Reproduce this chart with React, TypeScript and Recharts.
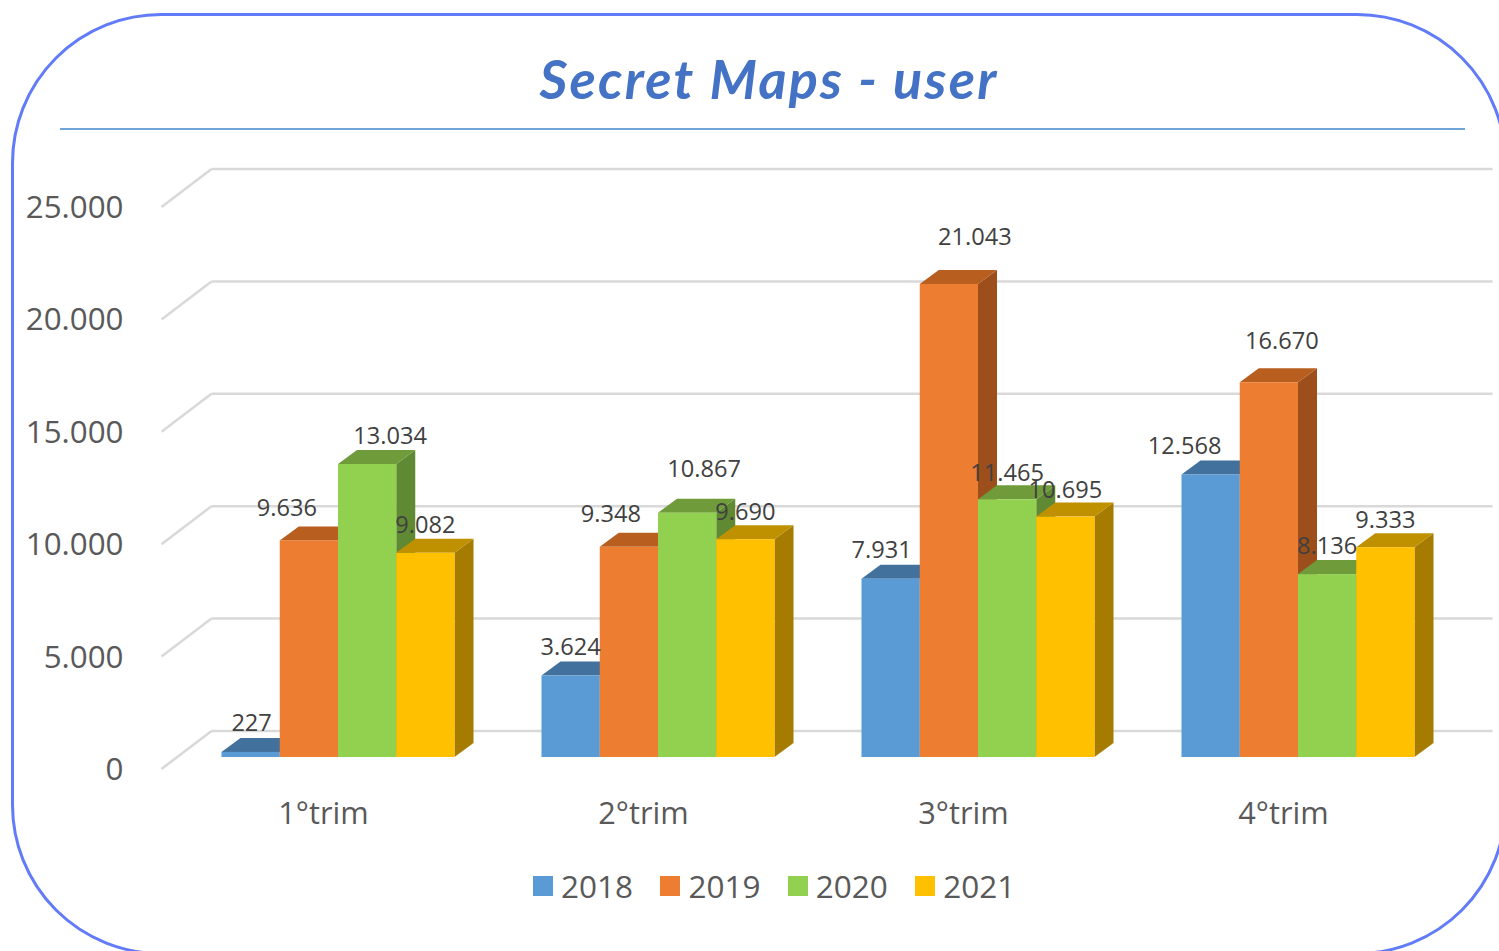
import { BarChart, Bar, XAxis, YAxis, CartesianGrid, Legend, LabelList } from "recharts";

const TRIMESTRI = ["1°trim", "2°trim", "3°trim", "4°trim"];
const ANNI = ["2018", "2019", "2020", "2021"];
const V2018 = [227, 3624, 7931, 12568];
const V2019 = [9636, 9348, 21043, 16670];
const V2020 = [13034, 10867, 11465, 8136];
const V2021 = [9082, 9690, 10695, 9333];
const Y_TICKS = [0, 5000, 10000, 15000, 20000, 25000];

const dati = TRIMESTRI.map((t, i) => ({
  trim: t,
  "2018": V2018[i],
  "2019": V2019[i],
  "2020": V2020[i],
  "2021": V2021[i],
}));

const COLORI = ["#5b9bd5", "#ed7d31", "#92d050", "#ffc000"];
const TOP = ["#41719c", "#b85f20", "#6f9b3a", "#bf9000"];
const LATO = ["#3f6f9c", "#9c4f1b", "#5f8a33", "#a67c00"];
const GRIGLIA = "#d9d9d9";
const FONT = "'Open Sans', sans-serif";

// spostamento delle etichette rispetto al centro del fronte barra [dx, dy sopra il top]
const NUDGE = [
  [[1, 30], [0, 30], [-9, 30], [-26, 29]],
  [[-22, 33], [-18, 34], [26, 48], [13, 42]],
  [[23, 29], [17, 45], [0, 27], [0, 29]],
  [[0, 29], [0, 28], [0, 28], [0, 28]],
];

const PROF_X = 19;
const PROF_Y = 14;

function formatta(v: number) {
  return v.toLocaleString("de-DE");
}

function Box3D(props: any, s: number) {
  const { x, y, width: w, height: h } = props;
  const b = y + h;
  return (
    <g>
      <polygon
        points={`${x + w},${b} ${x + w + PROF_X},${b - PROF_Y} ${x + w + PROF_X},${y - PROF_Y} ${x + w},${y}`}
        fill={LATO[s]}
      />
      <polygon
        points={`${x},${y} ${x + PROF_X},${y - PROF_Y} ${x + w + PROF_X},${y - PROF_Y} ${x + w},${y}`}
        fill={TOP[s]}
      />
      <rect x={x} y={y} width={w} height={h} fill={COLORI[s]} />
    </g>
  );
}

function RigaGriglia(props: any) {
  const { x1, x2, y1 } = props;
  return (
    <g key={props.key} stroke={GRIGLIA} strokeWidth={2.5} fill="none">
      <line x1={x1 - 16} y1={y1 + 12} x2={x1 + 34} y2={y1 - 26} />
      <line x1={x1 + 34} y1={y1 - 26} x2={x2 + 35} y2={y1 - 26} />
    </g>
  );
}

function TickY(props: any) {
  const { y, payload } = props;
  return (
    <text x={123.5} y={y + 11} textAnchor="end" dominantBaseline="central" fontSize={31.3} fontFamily={FONT} fill="#595959">
      {formatta(payload.value)}
    </text>
  );
}

function TickX(props: any) {
  const { x, payload } = props;
  return (
    <text x={x - 14} y={812} textAnchor="middle" dominantBaseline="central" fontSize={30.7} fontFamily={FONT} fill="#595959">
      {payload.value}
    </text>
  );
}

function Etichetta(props: any, s: number) {
  const { x, y, width, value, index } = props;
  const [dx, dy] = NUDGE[s][index];
  return (
    <text
      x={x + width / 2 + dx}
      y={y - dy}
      textAnchor="middle"
      dominantBaseline="central"
      fontSize={23.6}
      fontFamily={FONT}
      fill="#404040"
    >
      {formatta(value)}
    </text>
  );
}

function Legenda() {
  return (
    <div style={{ position: "relative", height: 40, width: 1499 }}>
      {ANNI.map((a, i) => (
        <div key={a} style={{ position: "absolute", left: 533 + i * 127.4, top: -2, display: "flex", alignItems: "center", height: 36 }}>
          <span style={{ width: 20, height: 20, background: COLORI[i], display: "inline-block", marginRight: 8, position: "relative", top: 1 }} />
          <span style={{ fontSize: 31.5, fontFamily: FONT, color: "#595959" }}>{a}</span>
        </div>
      ))}
    </div>
  );
}

export default function App() {
  return (
    <div style={{ position: "absolute", left: 0, top: 0, width: 1499, height: 951, overflow: "hidden", background: "#fff" }}>
      <div
        style={{
          position: "absolute",
          left: 11,
          top: 13,
          width: 1496,
          height: 942,
          boxSizing: "border-box",
          border: "3px solid #627bf8",
          borderRadius: 150,
        }}
      />
      <div
        style={{
          position: "absolute",
          left: 0,
          width: 1538,
          top: 44,
          textAlign: "center",
          fontFamily: "Lato, sans-serif",
          fontStyle: "italic",
          fontSize: 54,
          fontWeight: 700,
          color: "#4472c4",
          letterSpacing: 2.2,
          lineHeight: "70px",
        }}
      >
        Secret Maps - user
      </div>
      <div style={{ position: "absolute", left: 60, top: 128, width: 1405, height: 2, background: "#6fa5d8" }} />
      <div style={{ position: "absolute", left: 0, top: 0 }}>
        <BarChart
          width={1499}
          height={951}
          data={dati}
          margin={{ top: 195, right: 41.5, bottom: 134, left: 77.5 }}
          barSize={58.25}
          barGap={0}
        >
          <CartesianGrid vertical={false} horizontal={RigaGriglia} />
          <XAxis dataKey="trim" height={60} axisLine={false} tickLine={false} tick={TickX} interval={0} />
          <YAxis width={100} domain={[0, 25000]} ticks={Y_TICKS} axisLine={false} tickLine={false} tick={TickY} />
          <Legend
            verticalAlign="middle"
            content={<Legenda />}
            wrapperStyle={{ position: "absolute", top: 869, left: 0, width: 1499, height: 40 }}
          />
          {ANNI.map((a, s) => (
            <Bar key={a} dataKey={a} fill={COLORI[s]} isAnimationActive={false} shape={(p: any) => Box3D(p, s)}>
              <LabelList dataKey={a} content={(p: any) => Etichetta(p, s)} />
            </Bar>
          ))}
        </BarChart>
      </div>
    </div>
  );
}
